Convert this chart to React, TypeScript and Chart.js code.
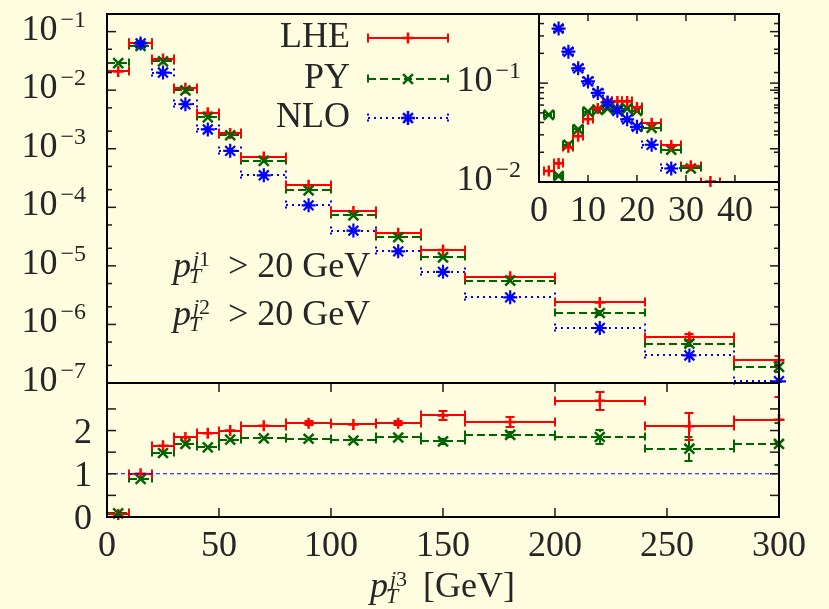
import React, { useEffect, useRef } from 'react';
import { Chart, registerables } from 'chart.js';

Chart.register(...registerables);

const BG = '#FEFDDF';
const RED = '#FF0000';
const GREEN = '#006400';
const BLUE = '#0000FF';
const INK = '#262626';
const SERIF = '"Liberation Serif", "Times New Roman", serif';
const DASH_PY = [8, 4];
const DASH_NLO = [2, 4];

// ---------------- main panel (pT of third jet) ----------------
const binLo = [0, 10, 20, 30, 40, 50, 60, 80, 100, 120, 140, 160, 200, 240, 280];
const binHi = [10, 20, 30, 40, 50, 60, 80, 100, 120, 140, 160, 200, 240, 280, 320];
const binCenter = [5, 15, 25, 35, 45, 55, 70, 90, 110, 130, 150, 180, 220, 260, 300];

const lheMain = [0.0209, 0.063, 0.034, 0.0108, 0.00413, 0.00183, 0.000726, 0.000238, 8.5e-5, 3.6e-5, 1.87e-5, 6.5e-6, 2.37e-6, 6.1e-7, 2.45e-7];
const pyMain = [0.029, 0.057, 0.031, 0.0099, 0.00344, 0.0017, 0.00062, 0.000195, 7.3e-5, 3.08e-5, 1.4e-5, 5.6e-6, 1.57e-6, 4.7e-7, 1.89e-7];
const nloMain = [0.35, 0.063, 0.02, 0.00575, 0.00214, 0.00092, 0.000352, 0.000108, 4.0e-5, 1.77e-5, 7.9e-6, 2.9e-6, 8.7e-7, 2.96e-7, 1.07e-7];
const lheMainRelErr = [0.01, 0.01, 0.01, 0.01, 0.01, 0.015, 0.015, 0.02, 0.02, 0.03, 0.04, 0.04, 0.06, 0.12, 0.2];
const pyMainRelErr = [0.01, 0.01, 0.01, 0.01, 0.01, 0.015, 0.015, 0.02, 0.02, 0.03, 0.04, 0.04, 0.06, 0.1, 0.2];

// ---------------- ratio panel (to NLO) ----------------
const lheRatio = [0.06, 1.0, 1.65, 1.84, 1.94, 2.0, 2.11, 2.17, 2.14, 2.17, 2.35, 2.2, 2.69, 2.1, 2.25];
const lheRatioErr = [0.02, 0.02, 0.03, 0.03, 0.03, 0.03, 0.03, 0.04, 0.04, 0.05, 0.1, 0.12, 0.21, 0.31, 0.52];
const pyRatio = [0.085, 0.88, 1.48, 1.69, 1.61, 1.79, 1.82, 1.81, 1.77, 1.84, 1.75, 1.9, 1.85, 1.58, 1.69];
const pyRatioErr = [0.01, 0.02, 0.03, 0.03, 0.03, 0.03, 0.03, 0.03, 0.04, 0.04, 0.05, 0.06, 0.16, 0.28, 0.48];
const nloRatioRef = 1;

// ---------------- inset (low pT region) ----------------
const insetLheX = [2, 4, 6, 8, 10, 12, 14, 16, 18, 20, 23, 27, 31, 35];
const insetLheLo = [1, 3, 5, 7, 9, 11, 13, 15, 17, 19, 21, 25, 29, 33];
const insetLheHi = [3, 5, 7, 9, 11, 13, 15, 17, 19, 21, 25, 29, 33, 37];
const insetLhe = [0.0129, 0.0154, 0.0224, 0.029, 0.043, 0.0553, 0.0653, 0.0653, 0.0653, 0.0567, 0.0392, 0.0234, 0.0146, 0.0101];

const insetPyX = [2, 4, 6, 8, 10, 12, 14, 16, 18, 20, 23, 27, 31];
const insetPyLo = [1, 3, 5, 7, 9, 11, 13, 15, 17, 19, 21, 25, 29];
const insetPyHi = [3, 5, 7, 9, 11, 13, 15, 17, 19, 21, 25, 29, 33];
const insetPy = [0.0477, 0.0115, 0.0238, 0.034, 0.0515, 0.0537, 0.0553, 0.0545, 0.0553, 0.0524, 0.0353, 0.0212, 0.0137];

const insetNloX = [4, 6, 8, 10, 12, 14, 16, 18, 20, 23, 27];
const insetNloLo = [3, 5, 7, 9, 11, 13, 15, 17, 19, 21, 25];
const insetNloHi = [5, 7, 9, 11, 13, 15, 17, 19, 21, 25, 29];
const insetNlo = [0.356, 0.208, 0.141, 0.104, 0.0796, 0.0638, 0.0524, 0.043, 0.0361, 0.0238, 0.0137];

// ---------------- ticks / labels ----------------
const xTicks = [0, 50, 100, 150, 200, 250, 300];
const mainYTicks = [1e-1, 1e-2, 1e-3, 1e-4, 1e-5, 1e-6, 1e-7];
const ratioYTicks = [0, 0.5, 1, 1.5, 2, 2.5];
const ratioYLabels = [0, 1, 2];
const insetXTicks = [0, 10, 20, 30, 40];
const insetYLabels = [0.1, 0.01];
const legendNames = ['LHE', 'PY', 'NLO'];
const cutText = '> 20 GeV';
const xTitleUnit = '[GeV]';

// ---------------- drawing helpers ----------------
function seg(ctx: CanvasRenderingContext2D, x1: number, y1: number, x2: number, y2: number) {
  ctx.beginPath();
  ctx.lineDashOffset = 0;
  ctx.moveTo(x1, y1);
  ctx.lineTo(x2, y2);
  ctx.stroke();
}

function drawMarker(ctx: CanvasRenderingContext2D, style: string, x: number, y: number, r: number) {
  ctx.setLineDash([]);
  ctx.beginPath();
  if (style === 'cross' || style === 'star') {
    ctx.moveTo(x - r, y); ctx.lineTo(x + r, y);
    ctx.moveTo(x, y - r); ctx.lineTo(x, y + r);
  }
  if (style === 'crossRot' || style === 'star') {
    const d = r * Math.cos(Math.PI / 4);
    ctx.moveTo(x - d, y - d); ctx.lineTo(x + d, y + d);
    ctx.moveTo(x - d, y + d); ctx.lineTo(x + d, y - d);
  }
  ctx.stroke();
}

function drawPow(ctx: CanvasRenderingContext2D, xRight: number, yPix: number, exp: number) {
  const e = '\u2212' + String(exp);
  ctx.fillStyle = INK;
  ctx.textBaseline = 'alphabetic';
  ctx.font = `24px ${SERIF}`;
  const ew = ctx.measureText(e).width;
  ctx.textAlign = 'left';
  ctx.fillText(e, xRight - ew, yPix - 5);
  ctx.font = `36px ${SERIF}`;
  ctx.textAlign = 'right';
  ctx.fillText('10', xRight - ew - 3, yPix + 8);
}

function drawPT(ctx: CanvasRenderingContext2D, x: number, base: number, sup: string) {
  ctx.fillStyle = INK;
  ctx.textAlign = 'left';
  ctx.textBaseline = 'alphabetic';
  ctx.font = `italic 36px ${SERIF}`;
  ctx.fillText('p', x, base);
  const sx = x + ctx.measureText('p').width + 1;
  ctx.font = `italic 22px ${SERIF}`;
  ctx.fillText('T', sx - 3, base + 6);
  ctx.fillText('j', sx + 1, base - 11);
  const jw = ctx.measureText('j').width;
  ctx.font = `22px ${SERIF}`;
  ctx.fillText(sup, sx + 1 + jw, base - 11);
  return sx + 1 + jw + ctx.measureText(sup).width;
}

function drawTicks(ctx: CanvasRenderingContext2D, left: number, right: number, ys: number[], len: number) {
  ys.forEach((y) => {
    seg(ctx, left, y, left + len, y);
    seg(ctx, right, y, right - len, y);
  });
}

const errorBarPlugin = {
  id: 'errbars',
  beforeDatasetsDraw(chart: any) {
    const { ctx, chartArea } = chart;
    ctx.save();
    ctx.beginPath();
    ctx.rect(chartArea.left - 1, chartArea.top - 1, chartArea.right - chartArea.left + 2, chartArea.bottom - chartArea.top + 2);
    ctx.clip();
    chart.data.datasets.forEach((ds: any, di: number) => {
      const eb = ds.eb;
      if (!eb) return;
      const meta = chart.getDatasetMeta(di);
      const xs = chart.scales[meta.xAxisID];
      const ys = chart.scales[meta.yAxisID];
      ctx.strokeStyle = ds.borderColor;
      ctx.lineWidth = 2;
      ctx.setLineDash(eb.dash);
      const cap = 4.5;
      ds.data.forEach((p: any, i: number) => {
        const py = Math.round(ys.getPixelForValue(p.y));
        const x1 = Math.round(xs.getPixelForValue(eb.xLo[i]));
        const x2 = Math.round(xs.getPixelForValue(eb.xHi[i]));
        const px = Math.round(xs.getPixelForValue(p.x));
        seg(ctx, x1, py, x2, py);
        seg(ctx, x1, py - cap, x1, py + cap);
        seg(ctx, x2, py - cap, x2, py + cap);
        if (eb.yLo && eb.yHi) {
          const y1 = Math.round(ys.getPixelForValue(eb.yLo[i]));
          const y2 = Math.round(ys.getPixelForValue(eb.yHi[i]));
          if (Math.abs(y1 - y2) > 3) {
            seg(ctx, px, y1, px, y2);
            seg(ctx, px - cap, y1, px + cap, y1);
            seg(ctx, px - cap, y2, px + cap, y2);
          }
        }
      });
    });
    ctx.restore();
  },
};

const mainDecorPlugin = {
  id: 'mainDecor',
  beforeDraw(chart: any) {
    const { ctx, width, height } = chart;
    ctx.save();
    ctx.fillStyle = BG;
    ctx.fillRect(0, 0, width, height);
    ctx.restore();
  },
  afterDraw(chart: any) {
    const { ctx, chartArea } = chart;
    const x = chart.scales.x;
    const y = chart.scales.y;
    const yr = chart.scales.yr;
    const L = chartArea.left;
    const R = chartArea.right;
    ctx.save();
    ctx.setLineDash([]);
    // ticks
    ctx.strokeStyle = '#1a1a1a';
    ctx.lineWidth = 1.5;
    drawTicks(ctx, L, R, mainYTicks.filter((v) => v > 1e-7).map((v) => y.getPixelForValue(v)), 9);
    const minors: number[] = [];
    mainYTicks.forEach((d) => {
      [2, 5].forEach((k) => {
        const v = d * k;
        if (v < 0.2) minors.push(y.getPixelForValue(v));
      });
    });
    drawTicks(ctx, L, R, minors, 5);
    drawTicks(ctx, L, R, ratioYTicks.filter((v) => v > 0).map((v) => yr.getPixelForValue(v)), 9);
    xTicks.filter((v) => v > 0 && v < 300).forEach((v) => {
      const px = x.getPixelForValue(v);
      seg(ctx, px, yr.top, px, yr.top + 9);
      seg(ctx, px, yr.bottom, px, yr.bottom - 9);
    });
    // frames
    ctx.strokeStyle = '#000';
    ctx.lineWidth = 2;
    ctx.strokeRect(L, y.top, R - L, y.bottom - y.top);
    ctx.strokeRect(L, yr.top, R - L, yr.bottom - yr.top);
    // y labels
    mainYTicks.forEach((v) => {
      drawPow(ctx, 86, y.getPixelForValue(v), Math.round(-Math.log10(v)));
    });
    ctx.font = `36px ${SERIF}`;
    ctx.textAlign = 'right';
    ctx.fillStyle = INK;
    ratioYLabels.forEach((v) => {
      ctx.fillText(String(v), 92, yr.getPixelForValue(v) + 12);
    });
    // legend
    const rows = [
      { name: legendNames[0], ly: 38, base: 47, color: RED, dash: [] as number[], marker: 'cross', r: 5.5 },
      { name: legendNames[1], ly: 79, base: 88, color: GREEN, dash: DASH_PY, marker: 'crossRot', r: 7 },
      { name: legendNames[2], ly: 118, base: 127, color: BLUE, dash: DASH_NLO, marker: 'star', r: 7 },
    ];
    rows.forEach((row) => {
      ctx.font = `36px ${SERIF}`;
      ctx.textAlign = 'right';
      ctx.fillStyle = INK;
      ctx.fillText(row.name, 350, row.base);
      ctx.strokeStyle = row.color;
      ctx.lineWidth = 2;
      ctx.setLineDash(row.dash);
      seg(ctx, 368, row.ly, 448, row.ly);
      seg(ctx, 368, row.ly - 4.5, 368, row.ly + 4.5);
      seg(ctx, 448, row.ly - 4.5, 448, row.ly + 4.5);
      ctx.lineWidth = 2.5;
      drawMarker(ctx, row.marker, 408, row.ly, row.r);
    });
    // cut annotations
    [{ b: 277, s: '1' }, { b: 325, s: '2' }].forEach((a) => {
      drawPT(ctx, 173, a.b, a.s);
      ctx.font = `36px ${SERIF}`;
      ctx.textAlign = 'left';
      ctx.fillStyle = INK;
      ctx.fillText(cutText, 228, a.b);
    });
    // x title
    const end = drawPT(ctx, 370, 597, '3');
    ctx.font = `36px ${SERIF}`;
    ctx.textAlign = 'left';
    ctx.fillStyle = INK;
    ctx.fillText(xTitleUnit, Math.max(end + 12, 423), 597);
    ctx.restore();
  },
};

const insetDecorPlugin = {
  id: 'insetDecor',
  afterDraw(chart: any) {
    const { ctx, chartArea } = chart;
    const x = chart.scales.x;
    const y = chart.scales.y;
    const L = chartArea.left;
    const R = chartArea.right;
    ctx.save();
    ctx.setLineDash([]);
    ctx.strokeStyle = '#1a1a1a';
    ctx.lineWidth = 1.5;
    drawTicks(ctx, L, R, [y.getPixelForValue(0.1)], 9);
    const minors: number[] = [];
    [0.01, 0.1].forEach((d) => {
      [2, 3, 4, 5, 6, 7, 8, 9].forEach((k) => {
        const v = d * k;
        if (v < 0.5) minors.push(y.getPixelForValue(v));
      });
    });
    drawTicks(ctx, L, R, minors, 5);
    insetXTicks.filter((v) => v > 0).forEach((v) => {
      const px = x.getPixelForValue(v);
      seg(ctx, px, chartArea.top, px, chartArea.top + 7);
      seg(ctx, px, chartArea.bottom, px, chartArea.bottom - 7);
    });
    ctx.strokeStyle = '#000';
    ctx.lineWidth = 2;
    ctx.strokeRect(L, chartArea.top, R - L, chartArea.bottom - chartArea.top);
    insetYLabels.forEach((v) => {
      drawPow(ctx, L - 18, y.getPixelForValue(v), Math.round(-Math.log10(v)));
    });
    ctx.restore();
  },
};

function pts(xs: number[], ys: number[]) {
  return xs.map((x, i) => ({ x, y: ys[i] }));
}

const PT_LHE = { pointStyle: 'cross', pointRadius: 5.5, pointBorderWidth: 2.5 };
const PT_PY = { pointStyle: 'crossRot', pointRadius: 7, pointBorderWidth: 2.5 };
const PT_NLO = { pointStyle: 'star', pointRadius: 7, pointBorderWidth: 2.2 };

function mainConfig(): any {
  const clipMain = { left: 10, top: 0, right: 10, bottom: 0 };
  const clipRatio = { left: 10, top: 0, right: 10, bottom: 10 };
  return {
    type: 'scatter',
    data: {
      datasets: [
        {
          label: 'NLO', data: pts(binCenter, nloMain), yAxisID: 'y', borderColor: BLUE, backgroundColor: BLUE,
          ...PT_NLO, showLine: false, clip: clipMain,
          eb: { xLo: binLo, xHi: binHi, dash: DASH_NLO },
        },
        {
          label: 'PY', data: pts(binCenter, pyMain), yAxisID: 'y', borderColor: GREEN, backgroundColor: GREEN,
          ...PT_PY, showLine: false, clip: clipMain,
          eb: {
            xLo: binLo, xHi: binHi, dash: DASH_PY,
            yLo: pyMain.map((v, i) => v * (1 - pyMainRelErr[i])), yHi: pyMain.map((v, i) => v * (1 + pyMainRelErr[i])),
          },
        },
        {
          label: 'LHE', data: pts(binCenter, lheMain), yAxisID: 'y', borderColor: RED, backgroundColor: RED,
          ...PT_LHE, showLine: false, clip: clipMain,
          eb: {
            xLo: binLo, xHi: binHi, dash: [],
            yLo: lheMain.map((v, i) => v * (1 - lheMainRelErr[i])), yHi: lheMain.map((v, i) => v * (1 + lheMainRelErr[i])),
          },
        },
        {
          type: 'line', label: 'NLO/NLO', data: [{ x: 0, y: nloRatioRef }, { x: 300, y: nloRatioRef }], yAxisID: 'yr',
          borderColor: BLUE, borderWidth: 1, borderDash: [4, 3], pointRadius: 0, showLine: true, fill: false,
        },
        {
          label: 'PY/NLO', data: pts(binCenter, pyRatio), yAxisID: 'yr', borderColor: GREEN, backgroundColor: GREEN,
          ...PT_PY, showLine: false, clip: clipRatio,
          eb: {
            xLo: binLo, xHi: binHi, dash: DASH_PY,
            yLo: pyRatio.map((v, i) => v - pyRatioErr[i]), yHi: pyRatio.map((v, i) => v + pyRatioErr[i]),
          },
        },
        {
          label: 'LHE/NLO', data: pts(binCenter, lheRatio), yAxisID: 'yr', borderColor: RED, backgroundColor: RED,
          ...PT_LHE, showLine: false, clip: clipRatio,
          eb: {
            xLo: binLo, xHi: binHi, dash: [],
            yLo: lheRatio.map((v, i) => v - lheRatioErr[i]), yHi: lheRatio.map((v, i) => v + lheRatioErr[i]),
          },
        },
      ],
    },
    options: {
      animation: false,
      responsive: true,
      maintainAspectRatio: false,
      devicePixelRatio: 1,
      events: [],
      layout: { padding: { top: 14, right: 50, left: 0, bottom: 0 } },
      plugins: { legend: { display: false }, tooltip: { enabled: false }, title: { display: false } },
      scales: {
        x: {
          type: 'linear', position: 'bottom', min: 0, max: 300,
          grid: { display: false, drawTicks: false }, border: { display: false },
          ticks: { font: { family: SERIF, size: 36 }, color: INK, padding: 8, maxRotation: 0, autoSkip: false },
          afterBuildTicks: (s: any) => { s.ticks = xTicks.map((v) => ({ value: v })); },
          afterFit: (s: any) => { s.height = 92; },
        },
        yr: {
          type: 'linear', position: 'left', min: 0, max: 3.1, stack: 'panels', stackWeight: 134,
          grid: { display: false, drawTicks: false }, border: { display: false }, ticks: { display: false },
          afterFit: (s: any) => { s.width = 107; },
        },
        y: {
          type: 'logarithmic', position: 'left', min: 1e-7, max: 0.2, stack: 'panels', stackWeight: 369,
          grid: { display: false, drawTicks: false }, border: { display: false }, ticks: { display: false },
          afterFit: (s: any) => { s.width = 107; },
        },
      },
    },
    plugins: [mainDecorPlugin, errorBarPlugin],
  };
}

function insetConfig(): any {
  const clipIn = { left: 10, top: 0, right: 10, bottom: 8 };
  return {
    type: 'scatter',
    data: {
      datasets: [
        {
          label: 'NLO', data: pts(insetNloX, insetNlo), borderColor: BLUE, backgroundColor: BLUE,
          ...PT_NLO, showLine: false, clip: clipIn,
          eb: { xLo: insetNloLo, xHi: insetNloHi, dash: DASH_NLO },
        },
        {
          label: 'LHE', data: pts(insetLheX, insetLhe), borderColor: RED, backgroundColor: RED,
          ...PT_LHE, showLine: false, clip: clipIn,
          eb: { xLo: insetLheLo, xHi: insetLheHi, dash: [] },
        },
        {
          label: 'PY', data: pts(insetPyX, insetPy), borderColor: GREEN, backgroundColor: GREEN,
          ...PT_PY, showLine: false, clip: clipIn,
          eb: { xLo: insetPyLo, xHi: insetPyHi, dash: DASH_PY },
        },
      ],
    },
    options: {
      animation: false,
      responsive: true,
      maintainAspectRatio: false,
      devicePixelRatio: 1,
      events: [],
      layout: { padding: { top: 14, right: 50, left: 0, bottom: 0 } },
      plugins: { legend: { display: false }, tooltip: { enabled: false }, title: { display: false } },
      scales: {
        x: {
          type: 'linear', position: 'bottom', min: 0, max: 49,
          grid: { display: false, drawTicks: false }, border: { display: false },
          ticks: { font: { family: SERIF, size: 36 }, color: INK, padding: 8, maxRotation: 0, autoSkip: false },
          afterBuildTicks: (s: any) => { s.ticks = insetXTicks.map((v) => ({ value: v })); },
          afterFit: (s: any) => { s.height = 58; },
        },
        y: {
          type: 'logarithmic', position: 'left', min: 0.01, max: 0.5,
          grid: { display: false, drawTicks: false }, border: { display: false }, ticks: { display: false },
          afterFit: (s: any) => { s.width = 109; },
        },
      },
    },
    plugins: [insetDecorPlugin, errorBarPlugin],
  };
}

export default function App() {
  const mainRef = useRef<HTMLCanvasElement>(null);
  const insetRef = useRef<HTMLCanvasElement>(null);
  useEffect(() => {
    document.body.style.margin = '0';
    document.body.style.background = BG;
    const c1 = new Chart(mainRef.current as HTMLCanvasElement, mainConfig());
    const c2 = new Chart(insetRef.current as HTMLCanvasElement, insetConfig());
    return () => {
      c1.destroy();
      c2.destroy();
    };
  }, []);
  return (
    <div style={{ position: 'fixed', left: 0, top: 0, width: 829, height: 609, background: BG, overflow: 'hidden' }}>
      <div style={{ position: 'absolute', left: 0, top: 0, width: 829, height: 609 }}>
        <canvas ref={mainRef} />
      </div>
      <div style={{ position: 'absolute', left: 430, top: 0, width: 399, height: 240 }}>
        <canvas ref={insetRef} />
      </div>
    </div>
  );
}
